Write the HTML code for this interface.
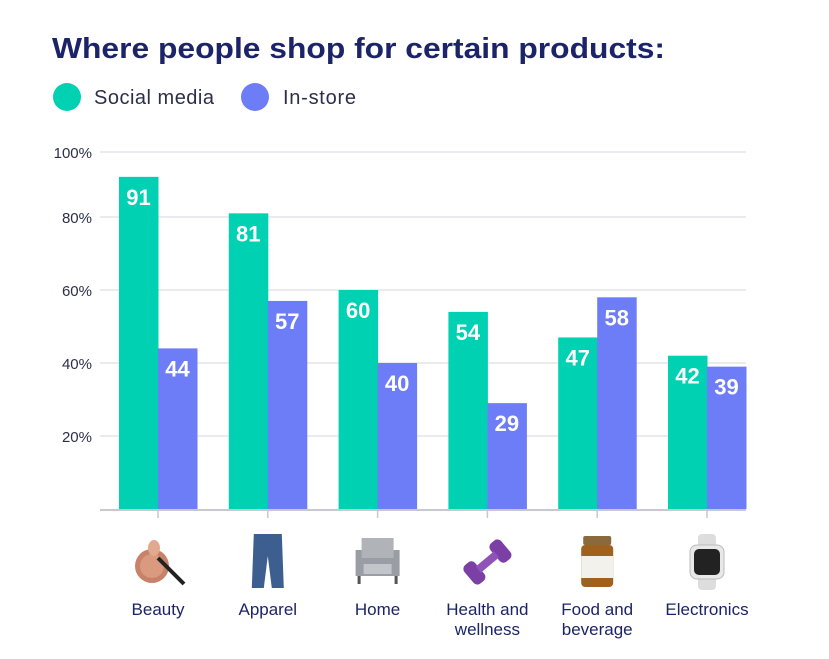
<!DOCTYPE html>
<html><head><meta charset="utf-8"><style>
body{margin:0;background:#fff;font-family:"Liberation Sans",sans-serif}
svg text{font-family:"Liberation Sans",sans-serif}
</style></head><body>
<svg id="c" width="829" height="654" viewBox="0 0 829 654" xmlns="http://www.w3.org/2000/svg">
<text x="52" y="58" font-size="29" font-weight="bold" fill="#1b2468" textLength="613" lengthAdjust="spacingAndGlyphs">Where people shop for certain products:</text>
<g>
<circle cx="67" cy="97" r="14" fill="#00d1b2"/>
<text x="94" y="104" font-size="20" fill="#2b2f4a" textLength="120">Social media</text>
<circle cx="255" cy="97" r="14" fill="#6d7cf7"/>
<text x="283" y="104" font-size="20" fill="#2b2f4a" textLength="73">In-store</text>
</g>
<g id="grid"></g><g id="bars"></g><g id="icons"></g>
</svg>
<script>
const categories=["Beauty","Apparel","Home","Health and wellness","Food and beverage","Electronics"];
const socialMedia=[91,81,60,54,47,42];
const inStore=[44,57,40,29,58,39];
const yTicks=[20,40,60,80,100];
const ns="http://www.w3.org/2000/svg";
const X0=100,X1=746,Y0=509,TOP=152;
const y=v=>Y0-v*3.65;
const step=109.8;
const cx=i=>158+step*i;
function mk(t,a,p){const e=document.createElementNS(ns,t);for(const k in a)e.setAttribute(k,a[k]);p.appendChild(e);return e;}
const g=document.getElementById('grid'),b=document.getElementById('bars'),ic=document.getElementById('icons');
yTicks.forEach(v=>{const yy=Math.max(y(v),TOP);
const l=mk('line',{x1:X0,x2:X1,y1:yy,y2:yy,stroke:'#e4e4ea','stroke-width':1.5},g);


const t=mk('text',{x:92,y:yy+6,'text-anchor':'end','font-size':15,fill:'#2b2f4a'},g);t.textContent=v+'%';

});
const ax=mk('line',{x1:X0,x2:X1,y1:Y0+1,y2:Y0+1,stroke:'#c8c8d0','stroke-width':2},g);


categories.forEach((c,i)=>{const x=cx(i);
[[socialMedia[i],'#00d1b2',x-39,'social'],[inStore[i],'#6d7cf7',x,'instore']].forEach(([v,col,bx,s])=>{
const r=mk('rect',{x:bx,y:y(v),width:39.5,height:Y0-y(v),fill:col},b);


const t=mk('text',{x:bx+19.5,y:y(v)+28,'text-anchor':'middle','font-size':22,'font-weight':'bold',fill:'#fff'},b);t.textContent=v;

});
const tk=mk('line',{x1:x,x2:x,y1:Y0+2,y2:Y0+9,stroke:'#c8c8d0','stroke-width':1.5},g);


const words=c.split(' ');let lines=words.length>2?[words.slice(0,2).join(' '),words.slice(2).join(' ')]:[c];
lines.forEach((ln,k)=>{const t=mk('text',{x:x,y:615+k*20,'text-anchor':'middle','font-size':17,fill:'#1b2468'},b);t.textContent=ln;

});
});
function icon(i,html,name){const gg=mk('g',{transform:'translate('+cx(i)+',562)'},ic);gg.innerHTML=html;

}
icon(0,'<circle cx="-6" cy="4" r="17" fill="#c9826a"/><circle cx="-6" cy="4" r="12" fill="#d99a80"/><line x1="0" y1="-4" x2="26" y2="22" stroke="#222" stroke-width="4"/><ellipse cx="-4" cy="-14" rx="6" ry="8" fill="#e2a98f"/>','icon-beauty');
icon(1,'<path d="M-14,-28 L14,-28 L16,26 L4,26 L0,-6 L-4,26 L-16,26 Z" fill="#3d5f8f"/>','icon-apparel');
icon(2,'<rect x="-22" y="-12" width="44" height="26" fill="#9a9ea4"/><rect x="-16" y="-24" width="32" height="20" fill="#b0b4b9"/><rect x="-14" y="2" width="28" height="10" fill="#c2c5c9"/><rect x="-20" y="14" width="3" height="8" fill="#555"/><rect x="17" y="14" width="3" height="8" fill="#555"/>','icon-home');
icon(3,'<g transform="rotate(-40)"><rect x="-24" y="-12" width="14" height="24" rx="5" fill="#7b3fa6"/><rect x="10" y="-12" width="14" height="24" rx="5" fill="#7b3fa6"/><rect x="-12" y="-4" width="24" height="8" fill="#8e52b8"/></g>','icon-health');
icon(4,'<rect x="-14" y="-26" width="28" height="9" rx="2" fill="#8a6a3c"/><rect x="-16" y="-17" width="32" height="42" rx="4" fill="#a0611f"/><rect x="-16" y="-6" width="32" height="22" fill="#f3f1ec"/>','icon-food');
icon(5,'<rect x="-9" y="-28" width="18" height="56" rx="4" fill="#ddd"/><rect x="-17" y="-17" width="34" height="34" rx="7" fill="#e8e8e8" stroke="#bbb"/><rect x="-13" y="-13" width="26" height="26" rx="5" fill="#222"/>','icon-electronics');
</script>
</body></html>
